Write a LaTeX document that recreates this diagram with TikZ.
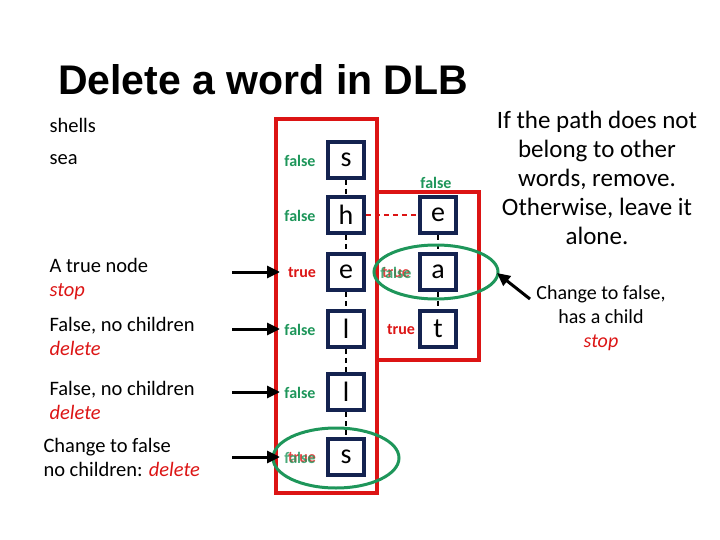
\documentclass[tikz,border=0pt]{standalone}
\usepackage{fontspec}
\setmainfont{Carlito}
\newfontfamily\titlefont{Liberation Sans}
\usetikzlibrary{arrows.meta}
\definecolor{navy}{RGB}{20,35,80}
\definecolor{gr}{RGB}{30,150,90}
\definecolor{rd}{RGB}{220,20,20}
\begin{document}
\begin{tikzpicture}[x=1pt,y=-1pt,
  let/.style={draw=navy,line width=3.5pt,minimum size=36pt,inner sep=0pt,font=\fontsize{28}{28}\selectfont},
  fl/.style={text=gr,font=\fontsize{16}{16}\selectfont\bfseries},
  tr/.style={text=rd,font=\fontsize{16}{16}\selectfont\bfseries},
  lt/.style={font=\fontsize{20.5}{24}\selectfont,align=left,anchor=west},
  link/.style={dashed,line width=2.5pt,dash pattern=on 5pt off 4pt},
  arr/.style={-{Triangle[length=13pt,width=12pt]},line width=3pt}]
\useasboundingbox (0,0) rectangle (720,540);
\draw[rd,line width=4pt] (276,119) rectangle (377,493);
\draw[rd,line width=4pt] (377,192) rectangle (479,360);
\node[anchor=west,inner sep=0pt] (title) at (58,80) {\resizebox{410pt}{30pt}{\titlefont\bfseries Delete a word in DLB}};
\node[let] (s1) at (346,160) {s};
\node[let] (h) at (346,215) {h};
\node[let] (e1) at (346,272) {e};
\node[let] (l1) at (346,329) {l};
\node[let] (l2) at (346,392) {l};
\node[let] (s2) at (346,457) {s};
\node[let] (e2) at (438,215) {e};
\node[let] (a) at (438,272) {a};
\node[let] (t) at (438,329) {t};
\foreach \p/\q in {s1/h,h/e1,e1/l1,l1/l2,l2/s2,e2/a,a/t} \draw[link] (\p) -- (\q);
\draw[link,rd] (h) -- (e2);
\node[fl] (f1) at (300,161) {false};
\node[fl] (f2) at (300,216) {false};
\node[tr] (t1) at (302,273) {true};
\node[fl] (f4) at (300,330) {false};
\node[fl] (f5) at (300,393) {false};
\node[tr,opacity=0.8] (t6) at (302,458) {true};
\node[fl,opacity=0.8] (f6) at (300,458) {false};
\node[fl] (f7) at (436,183) {false};
\node[tr,opacity=0.8] (t8) at (396,273) {true};
\node[fl,opacity=0.8] (f8) at (396,273) {false};
\node[tr] (t9) at (401,330) {true};
\draw[gr,line width=3pt] (436,272) ellipse (62 and 27);
\draw[gr,line width=3pt] (336,458) ellipse (63 and 30);
\node[lt] (L1) at (46,125) {shells};
\node[lt] (L2) at (46,160) {sea};
\node[lt] (L3) at (46,279) {A true node\\\textcolor{rd}{\itshape stop}};
\node[lt] (L4) at (46,336) {False, no children\\\textcolor{rd}{\itshape delete}};
\node[lt] (L5) at (46,400) {False, no children\\\textcolor{rd}{\itshape delete}};
\node[lt] (L6) at (40,457) {Change to false\\ no children: \textcolor{rd}{\itshape delete}};
\foreach \y [count=\i] in {272,329,392,457} {
  \coordinate (A\i) at (232,\y); \coordinate (B\i) at (280,\y);
  \draw[arr] (A\i) -- (B\i);}
\node[align=center,font=\fontsize{25}{29}\selectfont] (R1) at (597,178) {If the path does not\\belong to other\\words, remove.\\Otherwise, leave it\\alone.};
\node[align=center,font=\fontsize{20}{24}\selectfont] (R2) at (601,318) {Change to false,\\has a child\\\textcolor{rd}{\itshape stop}};
\coordinate (C1) at (530,299);
\draw[arr] (C1) -- (497,273);
\end{tikzpicture}
\end{document}
